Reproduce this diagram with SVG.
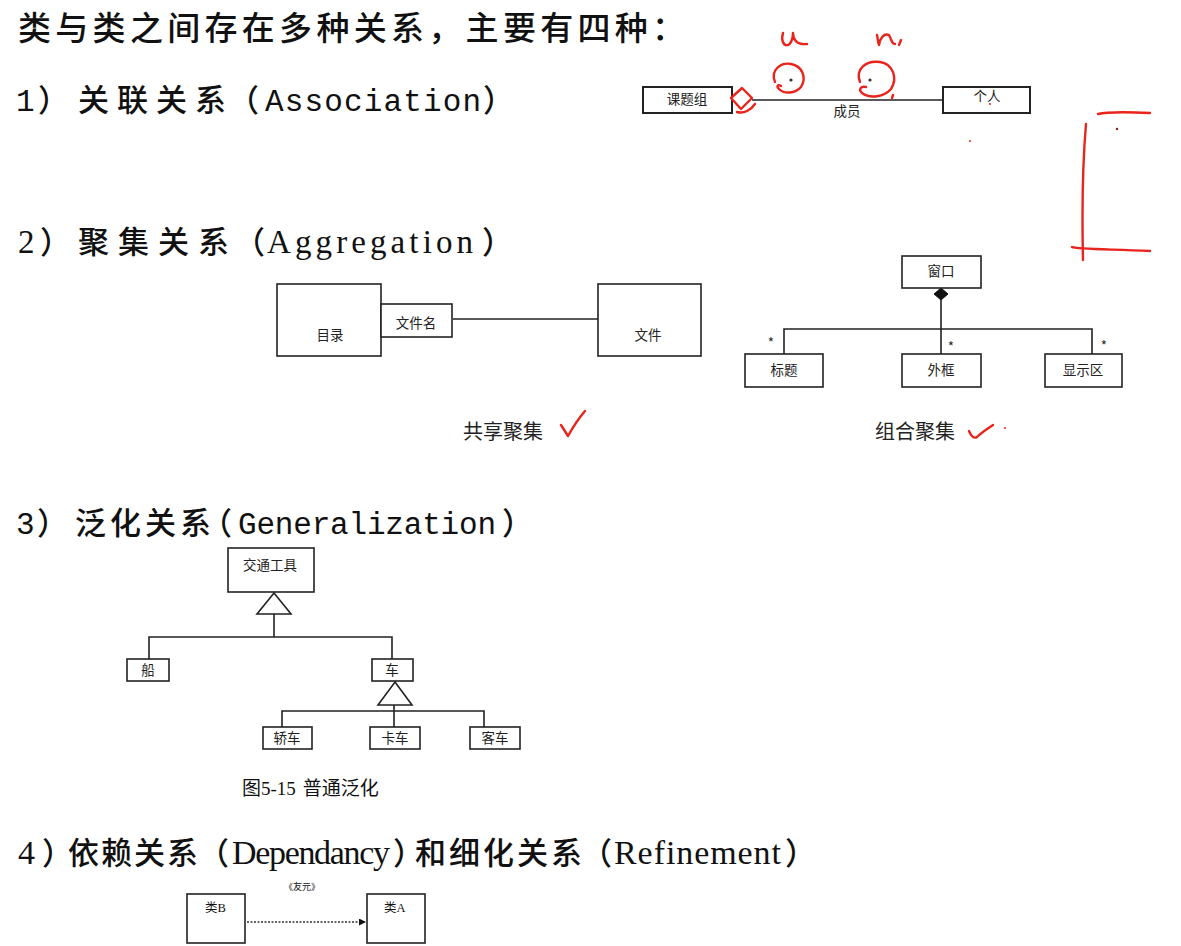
<svg xmlns="http://www.w3.org/2000/svg" width="1181" height="946" viewBox="0 0 1181 946">
<defs>
<style>
.cjk{font-family:"Noto Sans CJK SC","Noto Sans",sans-serif;fill:#111}
.hw{font-weight:500}
.mono{font-family:"Liberation Mono",monospace;fill:#111}
.serif{font-family:"Liberation Serif","Noto Sans CJK SC",serif;fill:#111}
.h{font-size:31px}
.box{fill:#fff;stroke:#222;stroke-width:1.6}
.boxb{fill:#fff;stroke:#222;stroke-width:2}
.ln{fill:none;stroke:#222;stroke-width:1.6}
.lbl{font-family:"Noto Sans CJK SC","Noto Sans",sans-serif;font-size:13.5px;fill:#222;text-anchor:middle}
.red{fill:none;stroke:#e8241c;stroke-width:2.4;stroke-linecap:round;stroke-linejoin:round}
.cap{font-family:"Noto Sans CJK SC","Noto Sans",sans-serif;font-size:20px;fill:#222;text-anchor:middle}
</style>
<marker id="arr" viewBox="0 0 10 10" refX="10" refY="5" markerWidth="9" markerHeight="7" markerUnits="userSpaceOnUse" orient="auto"><path d="M0,0 L10,5 L0,10 Z" fill="#111"/></marker>
</defs>
<rect width="1181" height="946" fill="#fff"/>

<!-- headings -->
<text class="cjk hw" y="40" font-size="33" x="18 55.3 92.6 129.9 167.2 204.5 241.8 279.1 316.4 353.7 391 428.3 465.6 502.9 540.2 577.5 614.8 652.1">类与类之间存在多种关系，主要有四种：</text>

<text y="111" class="h">
<tspan class="mono" x="16">1</tspan><tspan class="cjk hw" x="38" letter-spacing="-12">）</tspan><tspan class="cjk hw" x="78 117 156 195" letter-spacing="-6">关联关系</tspan><tspan class="cjk hw" x="228">（</tspan><tspan class="mono" x="265" textLength="216" lengthAdjust="spacing">Association</tspan><tspan class="cjk hw" x="483">）</tspan>
</text>

<text y="253" class="h">
<tspan class="serif" x="18" font-size="33">2</tspan><tspan class="cjk hw" x="40" letter-spacing="-12">）</tspan><tspan class="cjk hw" x="78 118 158 198" letter-spacing="-6">聚集关系</tspan><tspan class="cjk hw" x="234">（</tspan><tspan class="serif" x="267" font-size="33" textLength="206" lengthAdjust="spacing">Aggregation</tspan><tspan class="cjk hw" x="482">）</tspan>
</text>

<text y="534" class="h">
<tspan class="mono" x="16">3</tspan><tspan class="cjk hw" x="37" letter-spacing="-12">）</tspan><tspan class="cjk hw" x="75 110 145 180" letter-spacing="-12">泛化关系</tspan><tspan class="cjk hw" x="201">（</tspan><tspan class="mono" x="238" textLength="258" lengthAdjust="spacing">Generalization</tspan><tspan class="cjk hw" x="502">）</tspan>
</text>

<text y="864" class="h">
<tspan class="serif" x="18" font-size="34">4</tspan><tspan class="cjk hw" x="42" letter-spacing="-14">）</tspan><tspan class="cjk hw" x="68 101 134 167" letter-spacing="-12">依赖关系</tspan><tspan class="cjk hw" x="198">（</tspan><tspan class="serif" x="232" font-size="34" textLength="158" lengthAdjust="spacing">Dependancy</tspan><tspan class="cjk hw" x="393" letter-spacing="-14">）</tspan><tspan class="cjk hw" x="415 449 483 517 551" letter-spacing="-10">和细化关系</tspan><tspan class="cjk hw" x="581">（</tspan><tspan class="serif" x="614" font-size="34" textLength="167" lengthAdjust="spacing">Refinement</tspan><tspan class="cjk hw" x="785">）</tspan>
</text>

<!-- connectors -->
<g id="connectors">
<line class="ln" x1="752" y1="100" x2="943" y2="100" stroke-width="2"/>
<line class="ln" x1="453" y1="319" x2="598" y2="319"/>
<path class="ln" d="M941,300 V354 M784,354 V329 H1092 V354"/>
<path d="M941,288 L948,294 L941,300 L934,294 Z" fill="#111" stroke="#111"/>
<path class="ln" d="M274,614 V637 M149,659 V637 H392 V659"/>
<path d="M274,593 L291,614 L257,614 Z" fill="#fff" stroke="#222" stroke-width="1.6"/>
<path class="ln" d="M394,705 V727 M282,727 V711 H484 V727"/>
<path d="M395,682 L412,705 L378,705 Z" fill="#fff" stroke="#222" stroke-width="1.6"/>
<line x1="247" y1="922" x2="366" y2="922" stroke="#333" stroke-width="1.4" stroke-dasharray="2,1.5" marker-end="url(#arr)"/>
</g>

<!-- 1) association -->
<g id="n-ketizu"><rect class="boxb" x="643" y="87" width="89" height="26"/><text class="lbl" x="687" y="104">课题组</text></g>
<g id="n-geren"><rect class="boxb" x="943" y="87" width="87" height="26"/><text class="lbl" x="987" y="101">个人</text></g>
<text class="lbl" x="847" y="116">成员</text>
<circle cx="791" cy="80" r="1.6" fill="#333"/>
<circle cx="870" cy="80" r="1.6" fill="#333"/>

<!-- 2) aggregation -->
<g id="n-mulu"><rect class="box" x="277" y="284" width="104" height="72"/><text class="lbl" x="330" y="340">目录</text></g>
<g id="n-wenjianming"><rect class="box" x="381" y="304" width="71" height="33"/><text class="lbl" x="416" y="328">文件名</text></g>
<g id="n-wenjian"><rect class="box" x="598" y="284" width="103" height="72"/><text class="lbl" x="648" y="340">文件</text></g>
<text class="cap" x="503" y="439">共享聚集</text>

<g id="n-chuangkou"><rect class="box" x="902" y="256" width="79" height="32"/><text class="lbl" x="941" y="276">窗口</text></g>
<g id="n-biaoti"><rect class="box" x="745" y="354" width="78" height="33"/><text class="lbl" x="784" y="375">标题</text></g>
<g id="n-waikuang"><rect class="box" x="902" y="354" width="79" height="33"/><text class="lbl" x="941" y="375">外框</text></g>
<g id="n-xianshiqu"><rect class="box" x="1045" y="354" width="77" height="33"/><text class="lbl" x="1083" y="375">显示区</text></g>
<text class="lbl" x="771" y="348" font-size="17">*</text>
<text class="lbl" x="951" y="352" font-size="17">*</text>
<text class="lbl" x="1104" y="351" font-size="17">*</text>
<text class="cap" x="915" y="439">组合聚集</text>

<!-- 3) generalization -->
<g id="n-jiaotong"><rect class="box" x="228" y="548" width="86" height="44"/><text class="lbl" x="270" y="570">交通工具</text></g>
<g id="n-chuan"><rect class="box" x="127" y="659" width="42" height="22"/><text class="lbl" x="148" y="675">船</text></g>
<g id="n-che"><rect class="box" x="372" y="659" width="41" height="22"/><text class="lbl" x="392" y="675">车</text></g>
<g id="n-jiaoche"><rect class="box" x="263" y="727" width="49" height="22"/><text class="lbl" x="287" y="743">轿车</text></g>
<g id="n-kache"><rect class="box" x="370" y="727" width="50" height="22"/><text class="lbl" x="395" y="743">卡车</text></g>
<g id="n-keche"><rect class="box" x="470" y="727" width="50" height="22"/><text class="lbl" x="495" y="743">客车</text></g>
<text x="242" y="795" font-size="19" fill="#222"><tspan class="cjk" fill="#222">图</tspan><tspan class="serif" fill="#222">5-15</tspan><tspan class="cjk" fill="#222" dx="7">普通泛化</tspan></text>

<!-- 4) dependency -->
<g id="n-leiB"><rect class="box" x="187" y="894" width="58" height="49"/><text class="serif" x="205" y="912" font-size="12.5" fill="#222">类B</text></g>
<g id="n-leiA"><rect class="box" x="367" y="894" width="58" height="49"/><text class="serif" x="384" y="912" font-size="12.5" fill="#222">类A</text></g>
<text class="serif" x="302" y="890" font-size="9" fill="#444" text-anchor="middle">《友元》</text>

<!-- red annotations -->
<g id="annotations">
<path class="red" d="M783,33 C781,40 783,46 788,45 C791,44 793,38 793,33 C793,39 796,45 807,44"/>
<path class="red" d="M877,35 C878,40 878,43 879,45 C880,38 884,33 889,35 C892,40 891,44 895,44 M901,40 L899,45"/>
<path class="red" d="M775,82 C770,70 781,62 791,64 C802,66 807,77 801,87 C795,94 784,94 779,89 C776,86 778,84 781,86"/>
<path class="red" d="M860,82 C855,69 866,60 880,62 C893,64 898,78 891,89 C884,97 870,99 862,93 C858,89 861,86 866,87 M893,95 L892,98"/>
<path class="red" d="M742,88 L752,98 L741,109 L731,98 Z" stroke-width="3"/>
<path class="red" d="M737,112 C744,114 751,110 755,104"/>
<path class="red" d="M1098,114 C1110,111 1130,112 1150,113"/>
<path class="red" d="M1086,124 C1082,170 1082,215 1083,260"/>
<path class="red" d="M1072,247 C1075,249 1100,249 1150,251"/>
<circle cx="1117" cy="129" r="1.2" fill="#8a1a1a"/>
<circle cx="990" cy="104" r="1" fill="#e8241c"/>
<circle cx="970" cy="141" r="1" fill="#e8241c"/>
<path class="red" d="M561,425 L568,436 C573,427 579,418 585,411"/>
<path class="red" d="M969,431 C971,436 974,439 977,437 C982,432 987,429 993,425"/>
<circle cx="1005" cy="428" r="1" fill="#e8241c"/>
</g>
</svg>
